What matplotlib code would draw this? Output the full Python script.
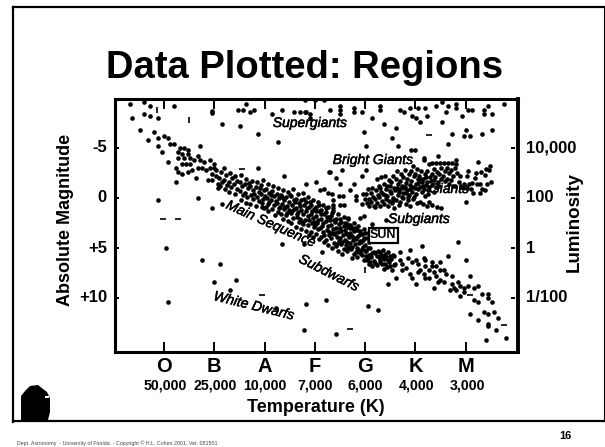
import matplotlib
matplotlib.use("Agg")
import matplotlib.pyplot as plt
from matplotlib.patches import Polygon, Rectangle
import matplotlib.patheffects as pe

W, H = 605, 447

# spectral position is in tenths of a class (O=0, B=10 ...), y is absolute magnitude
spectral = ["O", "B", "A", "F", "G", "K", "M"]
temps = ["50,000", "25,000", "10,000", "7,000", "6,000", "4,000", "3,000"]
temp_px = [165, 215, 265, 315, 365, 417, 467]
mag_ticks = [-5, 0, 5, 10]
mag_labels = ["-5", "0", "+5", "+10"]
lum_labels = ["10,000", "100", "1", "1/100"]

scattered = [
    (-6.8,-9.4),(-4,-9.6),(-2.8,-9.2),(2,-9.2),(16.3,-9.4),(9.5,-8.7),(9.5,-8.5),(14.7,-8.8),(15.7,-8.8),
    (17.1,-8.6),(17.9,-8.8),(21.5,-8.4),(23.5,-8.8),(25.8,-8.6),(27,-8.6),(28,-8.6),(29,-8.4),(29,-8),
    (-6.4,-8),(-4,-8.4),(-2.8,-8.2),(-1.2,-8),(11.5,-7.4),(15.1,-7.2),(-4.8,-6.8),(-2,-6.6),(18.7,-6.4),
    (-3.2,-5.8),(-1.2,-6),(0,-6.2),(0.8,-6),(22.7,-5.6),(1.2,-5.4),(2,-5.4),(-1.2,-5.2),(7.2,-5.2),(-0.4,-4.6),
    (-1.2,0.2),(6.8,0),(9.5,1),(11.5,0.6),(18.7,-3),(23.8,-2.2),(28.2,-1.4),(30.2,-1.6),(32.9,-2.6),
    (28,-9.8),(30,-9.8),(31.8,-9.8),(28.2,-8.6),(33,-8.8),(35,-9.2),(35,-8.8),(35,-8.4),(37.7,-9),(37.7,-8.6),
    (39.3,-8.6),(42.9,-9.2),(42.9,-8.8),(46.9,-8.8),(47.7,-8.6),(48.9,-9),(50.5,-9),(52,-9),(54,-9.2),(55.2,-9.6),
    (56.4,-9.2),(58,-9.4),(58,-9),(56,-8.6),(60.4,-8.8),(61.2,-8.8),(64.4,-9.2),(63.6,-8.8),(65.2,-8.4),(63.6,-8.4),
    (67.6,-9.4),(41.3,-8),(49.3,-8.2),(52.4,-8.2),(50.1,-8),(50.9,-7.6),(55.2,-7.6),(59.2,-8.2),(43.7,-7.4),
    (46.1,-7),(39.7,-6.6),(45.3,-6),(60,-6.8),(65.2,-6.8),(63.2,-6.4),(57.2,-6.4),(59.6,-6.2),(60.8,-6.2),
    (56.4,-5.4),(40.1,-5.2),(46.5,-5.2),(49.2,-4.8),(49.9,-4.8),(51.7,-4),(51.7,-3.8),(54.4,-4.2),(62.4,-3.6),(58,-3.8),
    (60,0.4),(0.4,5),(7.6,6.2),(11.1,6.6),(9.9,8.4),(14.3,8.2),(13.1,9.2),(0.8,10.4),(22.3,11),(23.5,4.6),(27.8,4.6),
    (31.4,5.4),(28.2,10.6),(32.2,10.2),(40.5,10.8),(42.5,11.2),(27.8,13.2),(34.2,13.6),
]
h_dashes = [(-0.1,2.07),(2.8,2.07),(15.5,-2.9),(52.8,-6.33),(19.5,9.7),(36.9,13.07),(60.8,9.7),(67.6,12.7)]
v_dashes = [(-1.4,-8.8),(4.9,-7.8),(39.9,7.2)]

upper_main = [
    (3.2,-5),(4,-5),(2.8,-4.6),(4.8,-4.8),(3.6,-4.4),(4.8,-4.4),(2.8,-4),(4,-4),(5.2,-4),(3.6,-3.4),(4.4,-3.4),
    (5.2,-3.4),(6,-3.8),(6.8,-4.2),(7.2,-3.8),(8,-3.6),(9.2,-3.8),(9.9,-3.4),(0.8,-3.6),(2.4,-3),(2.8,-2.6),
    (3.6,-2.4),(4.8,-2.6),(5.6,-2.8),(6.8,-3),(7.6,-3),(8.4,-2.8),(9.2,-3),(9.9,-3),(10.3,-2.8),(6.4,-2),(2.4,-1.6),
    (8.7,-1.8),(9.5,-1.8),(9.5,-2.4),(10.3,-2.2),(10.7,-1.4),(10.7,-1),(11.9,-3),
]
band = [
    (11.3,-2.6),(10.9,-2),(11.6,-1.6),(11.1,-1.2),(12.3,-2.3),(12,-1.8),(12.6,-1.3),(12.1,-0.9),(13.2,-2.5),(13.5,-2),
    (12.9,-1.6),(13.4,-1.1),(13,-0.6),(14.2,-2.2),(14.6,-1.7),(14,-1.4),(14.5,-0.9),(14.1,-0.4),(15.4,-2.3),(15.1,-1.6),
    (15.6,-1.2),(15.2,-0.7),(15.7,-0.3),(15.3,0.2),(16.4,-1.9),(16.2,-1.4),(16.7,-1),(16.1,-0.5),(16.6,-0.1),(16.3,0.5),
    (17.5,-1.7),(17.2,-1.2),(17.8,-0.8),(17.3,-0.3),(17.7,0.1),(17.1,0.6),(18.5,-1.6),(18.2,-1.1),(18.8,-0.6),(18.4,-0.1),
    (18.9,0.3),(18.3,0.8),(19.6,-1.8),(19.3,-1.3),(19.8,-0.8),(19.2,-0.4),(19.7,0.1),(19.4,0.5),(19.9,1),(20.6,-1.4),
    (20.3,-0.9),(20.8,-0.5),(20.4,0),(20.9,0.4),(20.2,0.9),(20.7,1.3),(21.7,-1.2),(21.4,-0.7),(21.9,-0.2),(21.3,0.2),
    (21.8,0.7),(21.5,1.1),(22,1.7),(22.7,-1),(22.4,-0.4),(22.9,0),(22.5,0.5),(23,0.9),(22.6,1.4),(23.6,-0.8),(23.3,-0.3),
    (23.9,0.2),(23.4,0.6),(23.8,1.1),(23.2,1.6),(23.7,2.1),(24.7,-0.6),(24.3,-0.1),(24.9,0.4),(24.4,0.8),(24.8,1.2),
    (24.2,1.7),(24.6,2.3),(25.6,-0.9),(25.3,-0.2),(25.8,0.2),(25.4,0.7),(25.9,1.1),(25.2,1.5),(25.7,2),(25.3,2.5),
    (26.6,-0.4),(26.3,0.1),(26.8,0.5),(26.2,1),(26.7,1.4),(26.4,1.9),(26.9,2.4),(26.3,2.9),(27.6,-0.5),(27.2,0.2),
    (27.8,0.7),(27.3,1.2),(27.7,1.6),(27.1,2.1),(27.6,2.6),(27.2,3.1),(28.6,-0.1),(28.2,0.4),(28.8,0.9),(28.3,1.3),
    (28.7,1.8),(28.1,2.2),(28.6,2.7),(28.2,3.3),(28.9,3.7),(29.6,0.2),(29.3,0.7),(29.9,1.1),(29.2,1.6),(29.7,2),
    (29.4,2.5),(29.8,2.9),(29.3,3.4),(29.6,3.9),(30.6,0.4),(30.2,0.9),(30.8,1.3),(30.3,1.8),(30.7,2.2),(30.1,2.7),
    (30.6,3.1),(30.2,3.6),(30.8,4.1),(31.6,0.7),(31.2,1.2),(31.8,1.6),(31.3,2.1),(31.7,2.5),(31.1,3),(31.6,3.4),(31.2,3.9),
    (31.8,4.4),(32.6,0.9),(32.3,1.4),(32.9,1.9),(32.2,2.3),(32.7,2.8),(32.4,3.2),(32.9,3.7),(32.3,4.2),(32.7,4.7),
    (33.7,1.3),(33.3,1.8),(33.8,2.2),(33.2,2.7),(33.6,3.1),(33.9,3.6),(33.3,4),(33.8,4.5),(33.4,5),(34.6,1.6),(34.3,2.1),
    (34.9,2.6),(34.2,3),(34.7,3.4),(34.4,3.9),(34.8,4.3),(34.3,4.8),(34.7,5.3),(35.7,1.9),(35.3,2.4),(35.8,2.8),(35.2,3.3),
    (35.6,3.7),(35.9,4.2),(35.3,4.6),(35.7,5.1),(35.4,5.6),(36.6,2.1),(36.3,2.6),(36.9,3),(36.2,3.5),(36.7,3.9),(36.4,4.4),
    (36.9,4.9),(36.3,5.3),(37.7,2.5),(37.2,2.9),(37.8,3.3),(37.3,3.8),(37.6,4.2),(37.9,4.6),(37.2,5.1),(37.7,5.6),(37.3,6),
    (38.6,2.8),(38.3,3.2),(38.9,3.6),(38.2,4.1),(38.7,4.5),(38.4,5),(38.9,5.4),(38.3,5.9),(39.7,3.1),(39.3,3.6),(39.8,4),
    (39.2,4.4),(39.6,4.9),(39.9,5.3),(39.3,5.7),(39.7,6.2),(40.6,3.5),(40.3,4),(40.8,4.4),(40.2,5.3),(40.7,5.7),(40.3,6.2),
    (40.8,6.6),(41.7,5.4),(41.2,5.9),(41.8,6.3),(41.3,6.8),(42.6,5.3),(42.3,5.8),(42.9,6.2),(42.4,6.7),(43.6,5.2),(43.2,5.7),
    (43.8,6.1),(43.3,6.6),(43.7,7.1),(44.6,5.4),(44.2,5.9),(44.8,6.4),(44.3,6.9),(45.6,5.7),(45.2,6.1),(45.7,6.7),(45.3,7.2),
]
# extra stars filling the thick middle of the band
band_fill = [
    (17,-1.5),(18,-0.4),(19,-1),(19.5,0.9),(20,-0.2),(20.6,0.6),(21.2,-0.3),(22.2,0.3),(22.8,1),(23.5,-0.1),(24,0.9),(24.5,1.5),
    (25,-0.3),(25.5,1.3),(26,0.4),(26.5,1.6),(27,0.8),(27.4,2.4),(27.9,0.1),(28.4,1),(28.9,2.2),(29.1,0.4),(29.5,1.3),(29.9,2.4),
    (30.3,1.3),(30.5,2.5),(30.9,0.7),(31.3,1.6),(31.5,2.8),(31.9,3.7),(32.2,1),(32.5,1.9),(32.8,3.4),(33.1,2.2),(33.5,1.5),(33.5,3.5),
    (34,2.4),(34.1,3.5),(34.5,4.6),(35,2.1),(35,3),(35.1,4),(35.5,4.4),(35.9,2.5),(36,3.2),(36.1,4.7),(36.5,2.9),(36.6,3.7),(36.5,5),
    (37,2.7),(37,3.5),(37,4.5),(37.5,3.1),(37.4,4.9),(37.9,4),(38,3),(38.1,5.4),(38.5,3.8),(38.6,5.2),(38.9,4.3),(39,3.3),(39,5.5),
    (39.5,4.2),(39.4,5.1),(39.9,3.5),(40,4.7),(40.1,5.8),(40.5,5),(40.5,6),(41,5),(41,6.4),(41.4,5.5),(42,5.5),(42,6.5),(42.7,5.9),
    (43,5.4),(43,6.4),(43.5,5.9),(44,5.6),(44,6.6),(44.5,6.2),(45,5.8),(45,6.8),
]
lower_main = [
    (46.9,5.4),(45.7,5.8),(48.5,6),(50.1,6.2),(51.7,6),(52,6.2),(49.3,6.4),(50.5,6.6),(52,6.8),(53.2,6.8),(54,6.8),
    (52.8,7.2),(54.8,7.2),(55.6,7.2),(56,7.6),(53.6,7.4),(50.9,7.2),(50.5,7.4),(51.7,7.6),(52,8),(52.8,8),(54,7.8),
    (54.8,8.2),(55.6,8.4),(54.4,8.4),(57.2,8.6),(58.4,8.4),(58.8,8.8),(57.6,9),(56.8,9.2),(58,9.2),(60.4,8.8),(61.6,9),
    (62.4,8.8),(59.6,9),(59.6,9.4),(58.8,9.8),(61.6,10.2),(62.4,10.4),(63.2,9.6),(64.4,9.6),(64.4,10),(65.2,10.4),
    (46.1,8),(44.5,8.6),(49.3,8),(50.1,8.6),(53.6,9),(60.8,11.6),(62.4,12.2),(63.6,11.4),(64.4,11.6),(65.6,11.4),
    (66.4,12),(64.4,12.6),(64.4,12.8),(66,13.2),(68,14),(64,14.2),(58.4,4.4),(51.3,4.8),(48.9,5.2),(56.4,5.8),(60,6.2),
    (54.8,6.4),(53.2,6.4),(60.8,7.8),(57.2,7.8),(47,6.2),(47.4,6.6),(48.2,7),(49,7.6),(47.4,7.2),(46,6.6),
]
giants_sparse = [
    (33,-2.6),(34.2,-2),(35.4,-2.8),(40.1,-2.8),(39.3,-2.2),(35,-1.4),(36.9,-0.8),(37.7,-1.4),(31,-0.8),(31.8,-0.9),
    (33.4,-0.4),(32.6,-0.47),(35.6,-0.2),(34.8,-0.2),(38.1,-0.2),(38.1,0.2),(33.6,0.2),(33.6,0.7),(35,0.7),(35.8,0.7),
    (33.6,1.03),(36.5,2),(38.9,2),(39.7,1.8),(44.1,2.2),(41.3,2.6),(41.3,3),
]
giants = [
    (39.5,-0.4),(39.9,0.1),(39.4,0.6),(40.5,-0.9),(40.2,-0.4),(40.7,0.1),(40.3,0.5),(40.8,0.8),(41.4,-1),(41.1,-0.5),
    (41.6,-0.1),(41.2,0.4),(41.7,0.8),(42.3,-1.9),(42.1,-0.8),(42.5,-0.3),(41.9,0.1),(42.4,0.5),(42,0.9),(43.1,-2.1),
    (42.8,-1.2),(43.2,-0.6),(42.7,-0.1),(43.3,0.3),(42.9,0.8),(44,-2.2),(43.7,-1.4),(44.1,-0.9),(43.6,-0.4),(44.2,0.1),
    (43.8,0.6),(44.7,-1.8),(44.4,-1.2),(44.9,-0.7),(44.3,-0.2),(44.8,0.3),(44.5,0.8),(45.5,-2.2),(45.2,-1.6),(45.7,-1),
    (45.1,-0.5),(45.6,0),(45.3,0.5),(45.8,1),(46.3,-2.7),(46.1,-1.9),(46.6,-1.4),(46,-0.8),(46.5,-0.3),(46.2,0.2),(46.7,0.7),
    (47.2,-2.4),(46.9,-1.7),(47.4,-1.2),(46.8,-0.6),(47.3,-0.1),(47,0.4),(47.9,-2.8),(47.6,-2.1),(48.1,-1.5),(47.7,-1),
    (48.2,-0.5),(47.6,0),(48.1,0.6),(48.7,-2.4),(48.4,-1.9),(48.9,-1.3),(48.3,-0.8),(48.8,-0.3),(48.5,0.2),(48.9,0.8),
    (49.5,-3.2),(49.2,-2.7),(49.7,-2.2),(49.1,-1.7),(49.6,-1.1),(49.3,-0.6),(49.8,-0.1),(50.3,-2.9),(50,-2.4),(50.5,-1.9),
    (50.1,-1.4),(50.6,-0.9),(50.2,-0.4),(50.4,0.5),(51.1,-2.7),(50.8,-2.2),(51.3,-1.6),(50.9,-1.1),(51.4,-0.6),(51,0.4),
    (51.9,-2.4),(51.6,-1.9),(52.1,-1.3),(51.7,-0.9),(52,-0.2),(51.6,0.6),(52.7,-3.4),(52.4,-2.7),(52.9,-2.1),(52.3,-1.6),
    (52.8,-1.1),(52.5,-0.4),(52.8,0.4),(52.3,0.8),(53.3,-3.5),(53.6,-2.9),(53.2,-2.4),(53.7,-1.8),(53.3,-1.3),(53.6,-0.6),
    (53.2,0.7),(54.1,-3.5),(54.3,-2.6),(53.9,-2.1),(54.4,-1.6),(54,-1.1),(54.3,0.9),(54.9,-3.5),(55,-3),(54.7,-2.4),(55.1,-1.9),
    (54.7,-1.2),(55,1),(55.7,-3.5),(55.8,-2.7),(55.4,-2.2),(55.9,-1.7),(56.5,-3.5),(56.3,-3),(56.7,-2.5),(56.2,-1.9),(56.6,-1.4),
    (57.3,-3.5),(57,-2.8),(57.5,-2.2),(57.1,-1.8),(57.4,-1.2),(58.1,-3.4),(57.8,-3),(58.2,-2.5),(57.9,-1.2),(58.9,-2.2),
    (58.6,-1.6),(59,-1.1),(59.7,-1.4),(59.4,-1),(60.5,-2.7),(60.3,-2.2),(60.6,-1.4),(60.2,-1),(61.3,-1.5),(61,-0.9),(61.4,-0.5),
    (62.1,-2.5),(61.9,-2),(62.2,-1.4),(63.1,-2.6),(62.9,-1.4),(63.2,-0.9),(62.8,-0.5),(64.1,-2.9),(63.9,-2.3),(64.2,-1.4),(63.8,-0.8),
    (64.9,-3.2),(64.7,-2.8),(65,-1.6),
    (43,-1),(44,-0.3),(45,-1.2),(45.5,0.2),(46.4,-1),(47,-0.9),(47.5,-0.5),(48,-1.1),(48.6,-0.1),(49,-0.9),(49.5,0.1),(50,-1),
    (50.6,-1.5),(51,-1.9),(51.5,-1.2),(52.1,-2.1),(52.6,-0.8),(53,-1.7),
]

x_min, x_max = -9.74, 70.4
y_min, y_max = 15.4, -9.9

plt.rcParams['font.family'] = ['Liberation Sans', 'DejaVu Sans']
fig = plt.figure(figsize=(W / 100, H / 100), dpi=100)
ax = fig.add_axes([115 / W, 1 - 352 / H, (518 - 115) / W, (352 - 99) / H])
ax.set_xlim(x_min, x_max)
ax.set_ylim(y_min, y_max)

pts = scattered + upper_main + band + band_fill + lower_main + giants_sparse + giants
ax.scatter([p[0] for p in pts], [p[1] for p in pts], s=11, c='k', linewidths=0, zorder=2)
ax.plot([p[0] for p in h_dashes], [p[1] for p in h_dashes], '_', color='k', ms=4, mew=1.2)
ax.plot([p[0] for p in v_dashes], [p[1] for p in v_dashes], '|', color='k', ms=4, mew=1.2)
ax.scatter([42], [4.9], s=16, c='w', linewidths=0, zorder=3)

for s in ax.spines.values():
    s.set_linewidth(2.2)
ax.spines['right'].set_linewidth(2.8)
ax.set_xticks([i * 10 for i in range(7)])
ax.set_xticklabels([])
ax.tick_params(axis='x', direction='in', length=7, width=1.4, top=True)
ax.set_yticks(mag_ticks)
ax.set_yticklabels([])
ax.tick_params(axis='y', direction='in', length=3, width=1.4, left=True, right=False)
# right ticks stand a little off the frame
ax.plot([69.4] * len(mag_ticks), mag_ticks, '_', color='k', ms=3, mew=1.4, zorder=3)

# SUN box
ax.text(43.6, 3.75, "SUN", ha='center', va='center', fontsize=9, fontweight='bold', zorder=4,
        bbox=dict(boxstyle='square,pad=0.1', fc='w', ec='k', lw=1.6))


def ft(px, py, s, **kw):
    kw.setdefault('ha', 'center')
    kw.setdefault('va', 'center')
    return fig.text(px / W, 1 - py / H, s, **kw)


# region labels
for px, py, s, rot in [(310, 123, "Supergiants", 0), (373, 160, "Bright Giants", 0), (449, 189, "Giants", 0),
                       (419, 219, "Subgiants", 0), (271, 224, "Main Sequence", -24), (329, 273, "Subdwarfs", -27),
                       (254, 306, "White Dwarfs", -14)]:
    ft(px, py, s, fontsize=10, style='italic', rotation=rot, rotation_mode='anchor', color='k', zorder=5,
       path_effects=[pe.withStroke(linewidth=0.35, foreground='k')])

ft(305, 78, "Data Plotted: Regions", fontsize=27.5, fontweight='bold', va='baseline')

for i, c in enumerate(spectral):
    ft(164 + 50.3 * i, 366, c, fontsize=14.5, fontweight='bold')
for px, t in zip(temp_px, temps):
    ft(px, 386, t, fontsize=10.2, fontweight='bold')
ft(316, 408, "Temperature (K)", fontsize=13, fontweight='bold')

for py, m, l in zip([148, 198, 248, 298], mag_labels, lum_labels):
    ft(107, py, m, fontsize=12, fontweight='bold', ha='right')
    ft(526, py, l, fontsize=12, fontweight='bold', ha='left')
ft(66, 220, "Absolute Magnitude", fontsize=13, fontweight='bold', rotation=90)
ft(574, 222, "Luminosity", fontsize=13.5, fontweight='bold', rotation=90)

# slide furniture
fig.add_artist(plt.Line2D([13 / W, 13 / W], [1 - 422 / H, 1 - 6.5 / H], color='k', lw=1.6))
fig.add_artist(plt.Line2D([13 / W, 604 / W], [1 - 6.5 / H, 1 - 6.5 / H], color='k', lw=1.6))
fig.add_artist(plt.Line2D([604 / W, 604 / W], [1 - 6.5 / H, 1 - 421 / H], color='k', lw=0.8))
fig.add_artist(plt.Line2D([13 / W, 605 / W], [1 - 421 / H, 1 - 421 / H], color='k', lw=1.6))
head = [(21, 420), (21, 396), (25, 391), (30, 386), (38, 385), (43, 389), (47, 392), (50, 398), (50, 412), (48, 420)]
fig.add_artist(Polygon([(x / W, 1 - y / H) for x, y in head], closed=True, fc='k', ec='none',
                       transform=fig.transFigure))
fig.add_artist(Rectangle((45 / W, 1 - 398 / H), 4 / W, 2 / H, fc='w', ec='none', transform=fig.transFigure))
ft(565.5, 436, "16", fontsize=8, fontweight='bold')
ft(17, 443, "Dept. Astronomy  - University of Florida  - Copyright \u00a9 H.L. Cohen 2001. Ver. 081501",
   fontsize=3.8, ha='left', color='#444444')

fig.savefig("out.png", dpi=100)
